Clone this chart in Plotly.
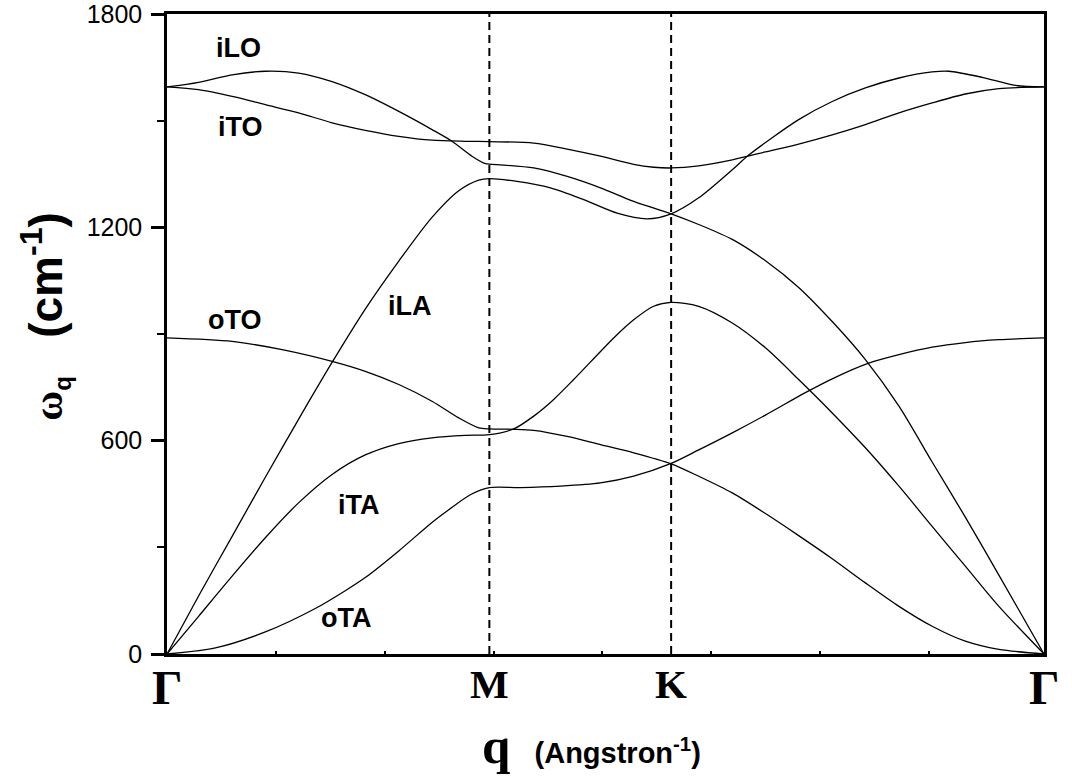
import plotly.graph_objects as go

# ---------------- data ----------------
# path lengths between high-symmetry points (Angstrom^-1): Gamma-M, M-K, K-Gamma
seg_len = [1.481, 0.835, 1.713]
sym_labels = ["Γ", "M", "K", "Γ"]

# Each branch: path parameter s (0=Γ, 1=M, 2=K, 3=Γ) and frequency ω (cm^-1)
A_s = [0, 0.098, 0.202, 0.305, 0.408, 0.512, 0.615, 0.719, 0.822, 0.884, 0.946, 0.988, 1.0,
       1.244, 1.428, 1.611, 1.794, 2.0,
       2.074, 2.164, 2.253, 2.342, 2.432, 2.521, 2.611, 2.700, 2.789, 2.879, 3.0]
A_w = [1595, 1608, 1629, 1639, 1634, 1610, 1573, 1526, 1475, 1442, 1400, 1379, 1378,
       1367, 1343, 1311, 1273, 1238,
       1208, 1166, 1106, 1031, 935, 828, 697, 540, 385, 222, 0]

B_s = [0, 0.098, 0.202, 0.305, 0.408, 0.512, 0.615, 0.719, 0.822, 0.905, 0.967, 1.0,
       1.152, 1.336, 1.519, 1.703, 1.868, 2.0,
       2.074, 2.164, 2.209, 2.342, 2.432, 2.521, 2.611, 2.700, 2.745, 2.834, 2.924, 3.0]
B_w = [0, 163, 331, 497, 660, 820, 970, 1105, 1228, 1303, 1333, 1337,
       1329, 1311, 1278, 1240, 1224, 1238,
       1283, 1362, 1404, 1503, 1554, 1592, 1620, 1637, 1639, 1622, 1599, 1595]

C_s = [0, 0.098, 0.202, 0.305, 0.408, 0.512, 0.615, 0.719, 0.822, 0.926, 1.0,
       1.244, 1.428, 1.611, 1.794, 1.904, 2.0,
       2.074, 2.164, 2.253, 2.342, 2.432, 2.521, 2.611, 2.700, 2.789, 2.879, 3.0]
C_w = [1595, 1587, 1568, 1545, 1522, 1494, 1473, 1456, 1445, 1442, 1441,
       1437, 1420, 1400, 1377, 1369, 1367,
       1373, 1390, 1412, 1434, 1460, 1489, 1522, 1550, 1575, 1590, 1595]

D_s = [0, 0.202, 0.357, 0.512, 0.615, 0.719, 0.822, 0.905, 0.967, 1.0,
       1.132, 1.244, 1.428, 1.611, 1.794, 2.0,
       2.074, 2.164, 2.253, 2.342, 2.432, 2.521, 2.611, 2.700, 2.789, 2.879, 3.0]
D_w = [889, 879, 856, 823, 795, 758, 711, 664, 636, 633,
       632, 629, 612, 589, 566, 535,
       500, 453, 395, 333, 268, 200, 134, 78, 36, 13, 0]

E_s = [0, 0.098, 0.202, 0.305, 0.408, 0.512, 0.615, 0.719, 0.822, 0.926, 1.0,
       1.134, 1.244, 1.354, 1.464, 1.684, 1.794, 1.904, 2.0,
       2.074, 2.164, 2.253, 2.342, 2.432, 2.521, 2.611, 2.700, 2.789, 2.879, 3.0]
E_w = [0, 106, 219, 327, 425, 505, 560, 592, 608, 615, 617,
       633, 669, 716, 772, 889, 940, 978, 989,
       978, 931, 861, 772, 678, 580, 472, 359, 247, 134, 0]

F_s = [0, 0.150, 0.305, 0.460, 0.553, 0.615, 0.719, 0.822, 0.873, 0.941, 1.0,
       1.171, 1.391, 1.611, 1.794, 2.0,
       2.074, 2.164, 2.253, 2.360, 2.432, 2.530, 2.611, 2.700, 2.789, 2.879, 3.0]
F_w = [0, 17, 62, 128, 178, 215, 290, 370, 405, 448, 468,
       468, 472, 481, 500, 536,
       574, 622, 672, 735, 774, 818, 842, 863, 876, 884, 889]

# branch labels (text, q in Angstrom^-1, ω in cm^-1)
label_text = ["iLO", "iTO", "oTO", "iLA", "iTA", "oTA"]
label_q = [0.328, 0.337, 0.314, 1.118, 0.881, 0.824]
label_w = [1705, 1483, 940, 980, 420, 100]

y_ticks = [0, 600, 1200, 1800]
y_minor = [300, 900, 1500]
q_ticks = [0.5, 1.0, 1.5, 2.0, 2.5, 3.0, 3.5]

# ---------------- helpers ----------------
sym_q = [0, seg_len[0], seg_len[0] + seg_len[1], sum(seg_len)]


def s2q(s):
    i = min(int(s), 2)
    return sym_q[i] + (s - i) * seg_len[i]


SANS = "Liberation Sans, Arial, sans-serif"
SERIF = "Liberation Serif, Times New Roman, serif"

fig = go.Figure()
for s_list, w_list in [(A_s, A_w), (B_s, B_w), (C_s, C_w), (D_s, D_w), (E_s, E_w), (F_s, F_w)]:
    fig.add_trace(go.Scatter(
        x=[s2q(v) for v in s_list], y=w_list, mode="lines",
        line=dict(color="black", width=1.3, shape="spline", smoothing=0.8),
        hoverinfo="skip", showlegend=False))

for qv in sym_q[1:3]:
    fig.add_vline(x=qv, line=dict(color="black", width=2, dash="8px,5px"))

for t, qv, wv in zip(label_text, label_q, label_w):
    fig.add_annotation(x=qv, y=wv, xref="x", yref="y", text="<b>%s</b>" % t,
                       showarrow=False, xanchor="center", yanchor="middle",
                       font=dict(family=SANS, size=27, color="black"))

for lab, qv in zip(sym_labels, sym_q):
    big = lab == "Γ"
    fig.add_annotation(x=qv, y=-0.052 if big else -0.047, xref="x", yref="paper",
                       text="<b>%s</b>" % lab, showarrow=False, xanchor="center",
                       yanchor="middle",
                       font=dict(family=SERIF, size=48 if big else 41, color="black"))

# axis titles
fig.add_annotation(
    x=0.484, y=-0.143, xref="paper", yref="paper", showarrow=False,
    xanchor="center", yanchor="middle",
    text='<span style="font-family:Liberation Serif;font-size:51px"><b>q</b></span>\u00a0\u00a0\u00a0'
         '<b>(Angstron<sup>-1</sup>)</b>',
    font=dict(family=SANS, size=29, color="black"))
fig.add_annotation(
    x=-0.139, y=0.527, xref="paper", yref="paper", showarrow=False, textangle=-90,
    xanchor="center", yanchor="middle",
    text='<span style="font-family:Liberation Serif;font-size:41px"><b>ω</b></span>'
         '<sub><span style="font-size:24px"><b>q</b></span></sub>\u00a0\u00a0\u00a0'
         '<b>(cm<sup>-1</sup>)</b>',
    font=dict(family=SANS, size=46, color="black"))

fig.update_xaxes(range=[0, sym_q[-1]], showline=True, linewidth=2.5, linecolor="black",
                 mirror=True, showticklabels=False, tickvals=q_ticks, ticks="inside",
                 ticklen=3, tickwidth=1.5, tickcolor="black",
                 showgrid=False, zeroline=False, automargin=False)
fig.update_yaxes(range=[0, 1800], tickvals=y_ticks, ticks="outside", ticklen=13, tickwidth=2.5,
                 tickcolor="black", showline=True, linewidth=2.5, linecolor="black", mirror=True,
                 tickfont=dict(family=SANS, size=25, color="black"), ticklabelstandoff=4,
                 ticklabeloverflow="allow",
                 minor=dict(tickvals=y_minor, ticks="outside", ticklen=7, tickwidth=2,
                            tickcolor="black"),
                 showgrid=False, zeroline=False, automargin=False)

fig.update_layout(width=1072, height=780, margin=dict(l=167, r=28, t=14, b=126, autoexpand=False),
                  plot_bgcolor="white", paper_bgcolor="white")

fig.write_html("out.html", config={"displayModeBar": False},
               post_script="document.body.style.margin='0px';")
